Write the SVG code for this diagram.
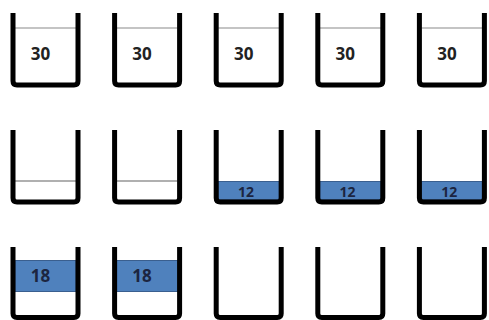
<svg xmlns="http://www.w3.org/2000/svg" width="489" height="320" viewBox="0 0 489 320">
<style>
.wall{fill:none;stroke:#000;stroke-width:5;stroke-linejoin:round}
.lvl1{stroke:#8a8a8a;stroke-width:1.2}
.lvl2{stroke:#b0b0b0;stroke-width:2.2}
.water{fill:#4f81bd;stroke:#3a5f8f;stroke-width:1}
.t{font-family:"Open Sans","Liberation Sans",sans-serif;font-weight:700;text-anchor:middle;fill:#222}
.tb{fill:#1c2540}
</style>
<rect width="489" height="320" fill="#fff"/>
<g id="r1c1"><line class="lvl1" x1="15" y1="28" x2="76" y2="28"/><text class="t" x="40.5" y="60" font-size="17">30</text><path class="wall" d="M13,13 V81 Q13,85 17,85 H74 Q78,85 78,81 V13"/></g>
<g id="r1c2"><line class="lvl1" x1="116.6" y1="28" x2="177.6" y2="28"/><text class="t" x="142" y="60" font-size="17">30</text><path class="wall" d="M114.6,13 V81 Q114.6,85 118.6,85 H175.6 Q179.6,85 179.6,81 V13"/></g>
<g id="r1c3"><line class="lvl1" x1="218.2" y1="28" x2="279.2" y2="28"/><text class="t" x="243.7" y="60" font-size="17">30</text><path class="wall" d="M216.2,13 V81 Q216.2,85 220.2,85 H277.2 Q281.2,85 281.2,81 V13"/></g>
<g id="r1c4"><line class="lvl1" x1="319.8" y1="28" x2="380.8" y2="28"/><text class="t" x="345.3" y="60" font-size="17">30</text><path class="wall" d="M317.8,13 V81 Q317.8,85 321.8,85 H378.8 Q382.8,85 382.8,81 V13"/></g>
<g id="r1c5"><line class="lvl1" x1="421.4" y1="28" x2="482.4" y2="28"/><text class="t" x="446.9" y="60" font-size="17">30</text><path class="wall" d="M419.4,13 V81 Q419.4,85 423.4,85 H480.4 Q484.4,85 484.4,81 V13"/></g>

<g id="r2c1"><line class="lvl2" x1="15" y1="181" x2="76" y2="181"/><path class="wall" d="M13,130 V198 Q13,202 17,202 H74 Q78,202 78,198 V130"/></g>
<g id="r2c2"><line class="lvl2" x1="116.6" y1="181" x2="177.6" y2="181"/><path class="wall" d="M114.6,130 V198 Q114.6,202 118.6,202 H175.6 Q179.6,202 179.6,198 V130"/></g>
<g id="r2c3"><rect class="water" x="218.2" y="181.5" width="61" height="18"/><text class="t tb" x="246" y="196.5" font-size="14">12</text><path class="wall" d="M216.2,130 V198 Q216.2,202 220.2,202 H277.2 Q281.2,202 281.2,198 V130"/></g>
<g id="r2c4"><rect class="water" x="319.8" y="181.5" width="61" height="18"/><text class="t tb" x="347.6" y="196.5" font-size="14">12</text><path class="wall" d="M317.8,130 V198 Q317.8,202 321.8,202 H378.8 Q382.8,202 382.8,198 V130"/></g>
<g id="r2c5"><rect class="water" x="421.4" y="181.5" width="61" height="18"/><text class="t tb" x="449.2" y="196.5" font-size="14">12</text><path class="wall" d="M419.4,130 V198 Q419.4,202 423.4,202 H480.4 Q484.4,202 484.4,198 V130"/></g>

<g id="r3c1"><rect class="water" x="15" y="260.5" width="61" height="31"/><text class="t tb" x="40.5" y="282" font-size="17">18</text><path class="wall" d="M13,247 V313.5 Q13,317.5 17,317.5 H74 Q78,317.5 78,313.5 V247"/></g>
<g id="r3c2"><rect class="water" x="116.6" y="260.5" width="61" height="31"/><text class="t tb" x="142" y="282" font-size="17">18</text><path class="wall" d="M114.6,247 V313.5 Q114.6,317.5 118.6,317.5 H175.6 Q179.6,317.5 179.6,313.5 V247"/></g>
<g id="r3c3"><path class="wall" d="M216.2,247 V313.5 Q216.2,317.5 220.2,317.5 H277.2 Q281.2,317.5 281.2,313.5 V247"/></g>
<g id="r3c4"><path class="wall" d="M317.8,247 V313.5 Q317.8,317.5 321.8,317.5 H378.8 Q382.8,317.5 382.8,313.5 V247"/></g>
<g id="r3c5"><path class="wall" d="M419.4,247 V313.5 Q419.4,317.5 423.4,317.5 H480.4 Q484.4,317.5 484.4,313.5 V247"/></g>
<g id="connectors"/>
</svg>
